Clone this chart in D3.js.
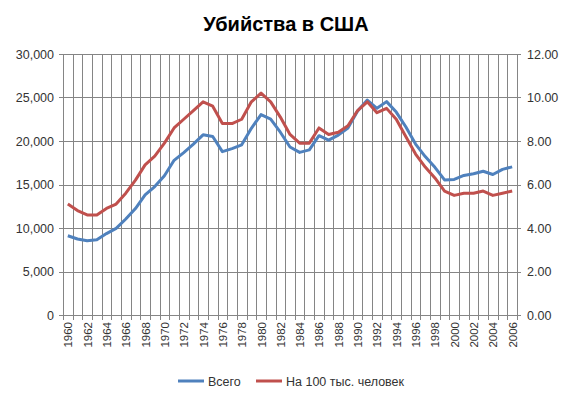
<!DOCTYPE html>
<html>
<head>
<meta charset="utf-8">
<script src="https://cdn.jsdelivr.net/npm/d3@7/dist/d3.min.js"></script>
<style>
  body { margin: 0; background: #fff; }
  svg { font-family: "Liberation Sans", Arial, sans-serif; }
</style>
</head>
<body>
<svg id="chart" width="572" height="398"></svg>
<script>
"use strict";

// Years on the category axis
const years = d3.range(1960, 2007);

// Total murders per year
const totals = [9110, 8740, 8530, 8640, 9360, 9960, 11040, 12240, 13800, 14760,
    16000, 17780, 18670, 19640, 20710, 20510, 18780, 19120, 19560, 21460,
    23040, 22520, 21010, 19308, 18692, 18976, 20613, 20096, 20675, 21500,
    23438, 24703, 23760, 24526, 23326, 21606, 19645, 18208, 16974, 15522,
    15586, 16037, 16229, 16528, 16148, 16740, 17030];

// Murders per 100k people
const rates = [5.1, 4.8, 4.6, 4.6, 4.9, 5.1, 5.6, 6.2, 6.9, 7.3,
    7.9, 8.6, 9.0, 9.4, 9.8, 9.6, 8.8, 8.8, 9.0, 9.8,
    10.2, 9.8, 9.1, 8.3, 7.9, 7.9, 8.6, 8.3, 8.4, 8.7,
    9.4, 9.8, 9.3, 9.5, 9.0, 8.2, 7.4, 6.8, 6.3, 5.7,
    5.5, 5.6, 5.6, 5.7, 5.5, 5.6, 5.7];

const leftTicks = [0, 5000, 10000, 15000, 20000, 25000, 30000];
const rightTicks = [0, 2, 4, 6, 8, 10, 12];

const seriesNames = ["Всего", "На 100 тыс. человек"];
const colors = ["#4F81BD", "#C0504D"];

const margin = { top: 54, left: 63, right: 55, bottom: 83 };
const width = 572, height = 398;

const svg = d3.select('#chart');

// Band scale so points sit between the gridlines
const x = d3.scaleBand()
    .domain(years)
    .range([margin.left, width - margin.right]);

const yLeft = d3.scaleLinear().domain([0, 30000]).range([height - margin.bottom, margin.top]);
const yRight = d3.scaleLinear().domain([0, 12]).range([height - margin.bottom, margin.top]);

const gridColor = "#858585";
const textColor = "#333";

// Horizontal gridlines
svg.append('g')
    .selectAll('line')
    .data(leftTicks)
    .enter().append('line')
        .attr('x1', margin.left - 4)
        .attr('x2', width - margin.right + 4)
        .attr('y1', d => Math.round(yLeft(d)) + 0.5)
        .attr('y2', d => Math.round(yLeft(d)) + 0.5)
        .attr('stroke', gridColor);

// Vertical gridlines at category boundaries
const bounds = years.map(d => x(d)).concat([x(years[years.length - 1]) + x.bandwidth()]);
svg.append('g')
    .selectAll('line')
    .data(bounds)
    .enter().append('line')
        .attr('x1', d => Math.round(d) + 0.5)
        .attr('x2', d => Math.round(d) + 0.5)
        .attr('y1', margin.top)
        .attr('y2', height - margin.bottom + 5)
        .attr('stroke', gridColor);

// Left axis labels
svg.append('g')
    .selectAll('text')
    .data(leftTicks)
    .enter().append('text')
        .attr('x', margin.left - 9)
        .attr('y', d => yLeft(d) + 4.5)
        .attr('text-anchor', 'end')
        .attr('font-size', 12.5)
        .attr('fill', textColor)
        .text(d => d3.format(',')(d));

// Right axis labels
svg.append('g')
    .selectAll('text')
    .data(rightTicks)
    .enter().append('text')
        .attr('x', width - margin.right + 10)
        .attr('y', d => yRight(d) + 4.5)
        .attr('text-anchor', 'start')
        .attr('font-size', 12.5)
        .attr('fill', textColor)
        .text(d => d3.format('.2f')(d));

// Year labels, rotated, every second year
svg.append('g')
    .selectAll('text')
    .data(years.filter(d => d % 2 === 0))
    .enter().append('text')
        .attr('transform', d => `translate(${x(d) + x.bandwidth() / 2 + 4.5}, ${height - margin.bottom + 7}) rotate(-90)`)
        .attr('text-anchor', 'end')
        .attr('font-size', 11.5)
        .attr('fill', textColor)
        .text(d => d);

// Lines
const lineLeft = d3.line()
    .x((d, i) => x(years[i]) + x.bandwidth() / 2)
    .y(d => yLeft(d));
const lineRight = d3.line()
    .x((d, i) => x(years[i]) + x.bandwidth() / 2)
    .y(d => yRight(d));

svg.append('path')
    .attr('d', lineLeft(totals))
    .attr('fill', 'none')
    .attr('stroke', colors[0])
    .attr('stroke-width', 3)
    .attr('stroke-linejoin', 'round');

svg.append('path')
    .attr('d', lineRight(rates))
    .attr('fill', 'none')
    .attr('stroke', colors[1])
    .attr('stroke-width', 3)
    .attr('stroke-linejoin', 'round');

// Title
svg.append('text')
    .attr('x', 286)
    .attr('y', 31)
    .attr('text-anchor', 'middle')
    .attr('font-size', 20)
    .attr('font-weight', 'bold')
    .attr('fill', '#000')
    .text('Убийства в США');

// Legend
const legendItems = [{ x: 178, name: seriesNames[0], color: colors[0] },
                     { x: 256, name: seriesNames[1], color: colors[1] }];
const lg = svg.append('g').selectAll('g')
    .data(legendItems)
    .enter().append('g')
        .attr('transform', d => `translate(${d.x}, 381)`);
lg.append('line')
    .attr('x1', 0).attr('x2', 26)
    .attr('stroke', d => d.color)
    .attr('stroke-width', 3);
lg.append('text')
    .attr('x', 30)
    .attr('y', 4.5)
    .attr('font-size', 12.5)
    .attr('fill', textColor)
    .text(d => d.name);
</script>
</body>
</html>
